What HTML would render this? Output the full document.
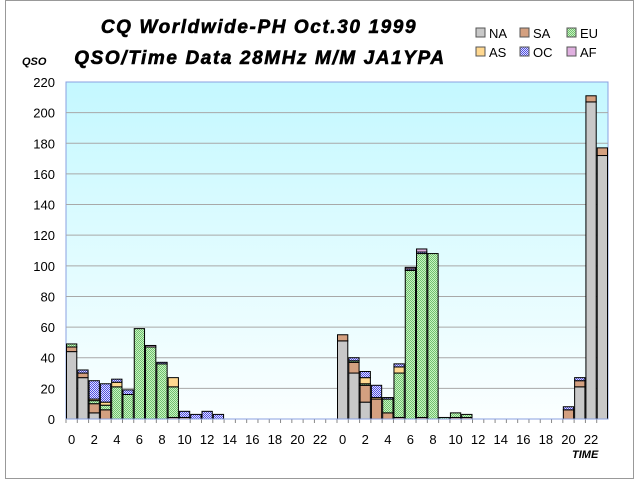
<!DOCTYPE html>
<html><head><meta charset="utf-8"><style>
body{margin:0;background:#fff}
svg{font-family:"Liberation Sans",Arial,sans-serif}
</style></head><body>
<svg width="640" height="480" viewBox="0 0 640 480">
<defs>
<linearGradient id="bg" x1="0" y1="0" x2="0" y2="1"><stop offset="0" stop-color="#c4f8ff"/><stop offset="1" stop-color="#fbffff"/></linearGradient>
<pattern id="pEU" width="2" height="2" patternUnits="userSpaceOnUse"><rect width="2" height="2" fill="#c8f4c0"/><rect width="1" height="1" fill="#70c070"/><rect x="1" y="1" width="1" height="1" fill="#70c070"/></pattern>
<pattern id="pOC" width="2" height="2" patternUnits="userSpaceOnUse"><rect width="2" height="2" fill="#e0e0ff"/><rect width="1" height="1" fill="#5050e0"/><rect x="1" y="1" width="1" height="1" fill="#5050e0"/></pattern>
</defs>
<rect x="5.5" y="0.5" width="628" height="478" fill="#fff" stroke="#999"/>
<text x="259" y="33" text-anchor="middle" font-size="19" font-weight="bold" font-style="italic" letter-spacing="1.6" stroke="#000" stroke-width="0.6">CQ Worldwide-PH Oct.30 1999</text>
<text x="260" y="64" text-anchor="middle" font-size="19" font-weight="bold" font-style="italic" letter-spacing="1.6" stroke="#000" stroke-width="0.6">QSO/Time Data 28MHz M/M JA1YPA</text>
<text x="22" y="65" font-size="11" font-weight="bold" font-style="italic">QSO</text>
<text x="572" y="458" font-size="11" font-weight="bold" font-style="italic">TIME</text>
<rect x="66" y="82" width="542" height="337" fill="url(#bg)" stroke="#8aa0e0"/>
<g id="grid"></g><g id="bars"></g><g id="axes"></g><g id="legend"></g>
</svg>
<script>
const hours=[0,1,2,3,4,5,6,7,8,9,10,11,12,13,14,15,16,17,18,19,20,21,22,23,0,1,2,3,4,5,6,7,8,9,10,11,12,13,14,15,16,17,18,19,20,21,22,23];
const seriesNames=["NA","SA","EU","AS","OC","AF"];
const NA=[44,27,4,0,0,0,0,0,0,0,0,0,0,0,0,0,0,0,0,0,0,0,0,0, 51,30,11,0,0,0,0,0,0,0,0,0,0,0,0,0,0,0,0,0,0,21,207,172];
const SA=[3,3,6,6,0,0,0,0,0,1,1,0,0,0,0,0,0,0,0,0,0,0,0,0, 4,7,11,13,4,1,0,1,0,0,1,1,0,0,0,0,0,0,0,0,6,4,4,5];
const EU=[2,0,2,3,21,16,59,47,36,20,0,0,0,0,0,0,0,0,0,0,0,0,0,0, 0,1,1,0,9,29,97,107,108,1,3,2,0,0,0,0,0,0,0,0,0,0,0,0];
const AS=[0,0,1,2,3,0,0,0,0,6,0,0,0,0,0,0,0,0,0,0,0,0,0,0, 0,0,4,1,0,4,0,0,0,0,0,0,0,0,0,0,0,0,0,0,0,0,0,0];
const OC=[0,2,12,12,2,3,0,0,1,0,4,3,5,3,0,0,0,0,0,0,0,0,0,0, 0,2,4,8,1,2,1,1,0,0,0,0,0,0,0,0,0,0,0,0,2,2,0,0];
const AF=[0,0,0,0,0,0,0,1,0,0,0,0,0,0,0,0,0,0,0,0,0,0,0,0, 0,0,0,0,0,0,1,2,0,0,0,0,0,0,0,0,0,0,0,0,0,0,0,0];
const yTicks=[0,20,40,60,80,100,120,140,160,180,200,220];
const xTickLabels=["0","2","4","6","8","10","12","14","16","18","20","22","0","2","4","6","8","10","12","14","16","18","20","22"];
const series=[NA,SA,EU,AS,OC,AF];
const fills=["#c8c8c8","#d4a080","url(#pEU)","#ffd890","url(#pOC)","#e0b0e0"];
const L=66,R=608,T=82,B=419,YMAX=220;
const slot=(R-L)/hours.length;
const y=v=>B-v/YMAX*(B-T);
const xs=i=>L+i*slot;
const NS="http://www.w3.org/2000/svg";
function mk(t,a,p){const e=document.createElementNS(NS,t);for(const k in a)e.setAttribute(k,a[k]);p.appendChild(e);return e;}
const grid=document.getElementById('grid'),axes=document.getElementById('axes'),bars=document.getElementById('bars'),leg=document.getElementById('legend');
yTicks.forEach(v=>{
 if(v>0&&v<YMAX){const g=mk('line',{x1:L,x2:R,y1:y(v),y2:y(v),stroke:'#a8a8a8'},grid);
 
 }
 const t=mk('text',{x:55,y:y(v)+5,'text-anchor':'end','font-size':13},axes);t.textContent=v;
 
 
});
hours.forEach((h,i)=>{
 let acc=0;
 series.forEach((s,k)=>{
  const v=s[i]; if(!v) return;
  const r=mk('rect',{x:xs(i)+0.5,y:y(acc+v),width:slot-1,height:y(acc)-y(acc+v),fill:fills[k],stroke:'#000','stroke-width':1},bars);
  
  
  acc+=v;
 });
 const tk=mk('line',{x1:xs(i),x2:xs(i),y1:B,y2:B+4,stroke:'#888'},axes);
 
 
});
xTickLabels.forEach((lab,j)=>{
 const t=mk('text',{x:xs(j*2)+slot/2,y:B+25,'text-anchor':'middle','font-size':13},axes);t.textContent=lab;
 
 
});
const ax=mk('line',{x1:L,x2:R,y1:B,y2:B,stroke:'#8aa0e0'},axes);


const lx=[476,520,567];
seriesNames.forEach((n,k)=>{
 const gx=lx[k%3],gy=k<3?28:47;
 const g=mk('g',{},leg);
 
 
 mk('rect',{x:gx,y:gy,width:9,height:9,fill:fills[k],stroke:'#555'},g);
 const t=mk('text',{x:gx+13,y:gy+10,'font-size':13},g);t.textContent=n;
});
</script>
</body></html>
